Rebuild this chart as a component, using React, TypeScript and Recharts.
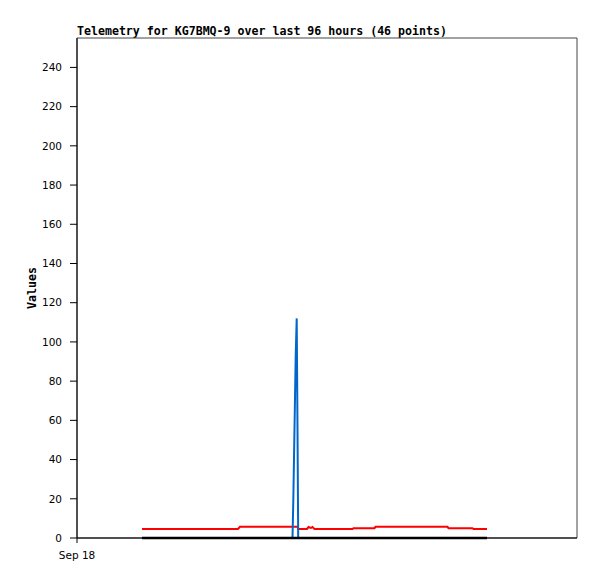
import React from "react";
import { LineChart, Line, XAxis, YAxis, ReferenceArea } from "recharts";

// minutes after Sep 18 00:00 for each telemetry sample
const times = [
  130, 148, 166, 184, 202, 220, 238, 256, 274, 292, 310, 322,
  326, 358, 390, 422,
  431, 432.6, 435, 437.4, 439.4, 441, 442.4,
  452, 460, 463, 468, 471, 475,
  506, 551, 553, 574, 595, 597, 626, 656, 686, 716, 741, 743,
  766, 791, 793, 806, 820,
];

const ch1 = [
  4.6, 4.6, 4.6, 4.6, 4.6, 4.6, 4.6, 4.6, 4.6, 4.6, 4.6, 4.6,
  5.7, 5.7, 5.7, 5.7,
  5.7, 5.7, 5.7, 5.7, 5.7, 5.7, 4.6,
  4.6, 4.6, 5.6, 5.1, 5.6, 4.6,
  4.6, 4.6, 5.0, 5.0, 5.0, 5.7, 5.7, 5.7, 5.7, 5.7, 5.7, 5.0,
  5.0, 5.0, 4.6, 4.6, 4.6,
];

const ch2 = [
  0, 0, 0, 0, 0, 0, 0, 0, 0, 0, 0, 0,
  0, 0, 0, 0,
  0, 19, 56, 93, 112, 56, 0,
  0, 0, 0, 0, 0, 0,
  0, 0, 0, 0, 0, 0, 0, 0, 0, 0, 0, 0,
  0, 0, 0, 0, 0,
];

const ch3 = times.map(() => 0);

const yTicks = [0, 20, 40, 60, 80, 100, 120, 140, 160, 180, 200, 220, 240];

const data = times.map((t, i) => ({ t, ch1: ch1[i], ch2: ch2[i], ch3: ch3[i] }));

const MONO = "'DejaVu Sans Mono', monospace";
const SANS = "'DejaVu Sans', sans-serif";

const ValuesLabel = () => (
  <text
    x={32}
    y={288}
    transform="rotate(-90 32 288)"
    textAnchor="middle"
    dominantBaseline="central"
    fontFamily={MONO}
    fontWeight="bold"
    fontSize={11.6}
    fill="#000"
  >
    Values
  </text>
);

export default function App() {
  return (
    <div
      style={{
        position: "absolute",
        left: 0,
        top: 0,
        width: 597,
        height: 579,
        background: "#fff",
      }}
    >
      <div
        style={{
          position: "absolute",
          left: 77,
          top: 24,
          fontFamily: MONO,
          fontWeight: "bold",
          fontSize: 11.6,
          lineHeight: "14px",
          whiteSpace: "nowrap",
          color: "#000",
        }}
      >
        Telemetry for KG7BMQ-9 over last 96 hours (46 points)
      </div>
      <LineChart
        width={597}
        height={579}
        data={data}
        margin={{ top: 38, right: 20, bottom: 11, left: 17 }}
      >
        <ReferenceArea
          x1={0}
          x2={1000}
          y1={0}
          y2={255}
          fill="none"
          stroke="#444"
          strokeWidth={1}
          ifOverflow="visible"
        />
        <XAxis
          dataKey="t"
          type="number"
          domain={[0, 1000]}
          ticks={[0]}
          tickFormatter={() => "Sep 18"}
          tickSize={5}
          tickMargin={9}
          height={30}
          stroke="#000"
          tick={{ fontFamily: SANS, fontSize: 10.5, fill: "#000" }}
        />
        <YAxis
          type="number"
          domain={[0, 255]}
          ticks={yTicks}
          width={60}
          tickSize={7}
          tickMargin={8}
          stroke="#000"
          interval={0}
          tick={{ fontFamily: SANS, fontSize: 10.5, fill: "#000" }}
          label={<ValuesLabel />}
        />
        <Line
          dataKey="ch1"
          stroke="#ff0000"
          strokeWidth={2}
          dot={false}
          isAnimationActive={false}
        />
        <Line
          dataKey="ch2"
          stroke="#0066cc"
          strokeWidth={2}
          dot={false}
          isAnimationActive={false}
        />
        <Line
          dataKey="ch3"
          stroke="#000000"
          strokeWidth={2.5}
          dot={false}
          isAnimationActive={false}
        />
      </LineChart>
    </div>
  );
}
